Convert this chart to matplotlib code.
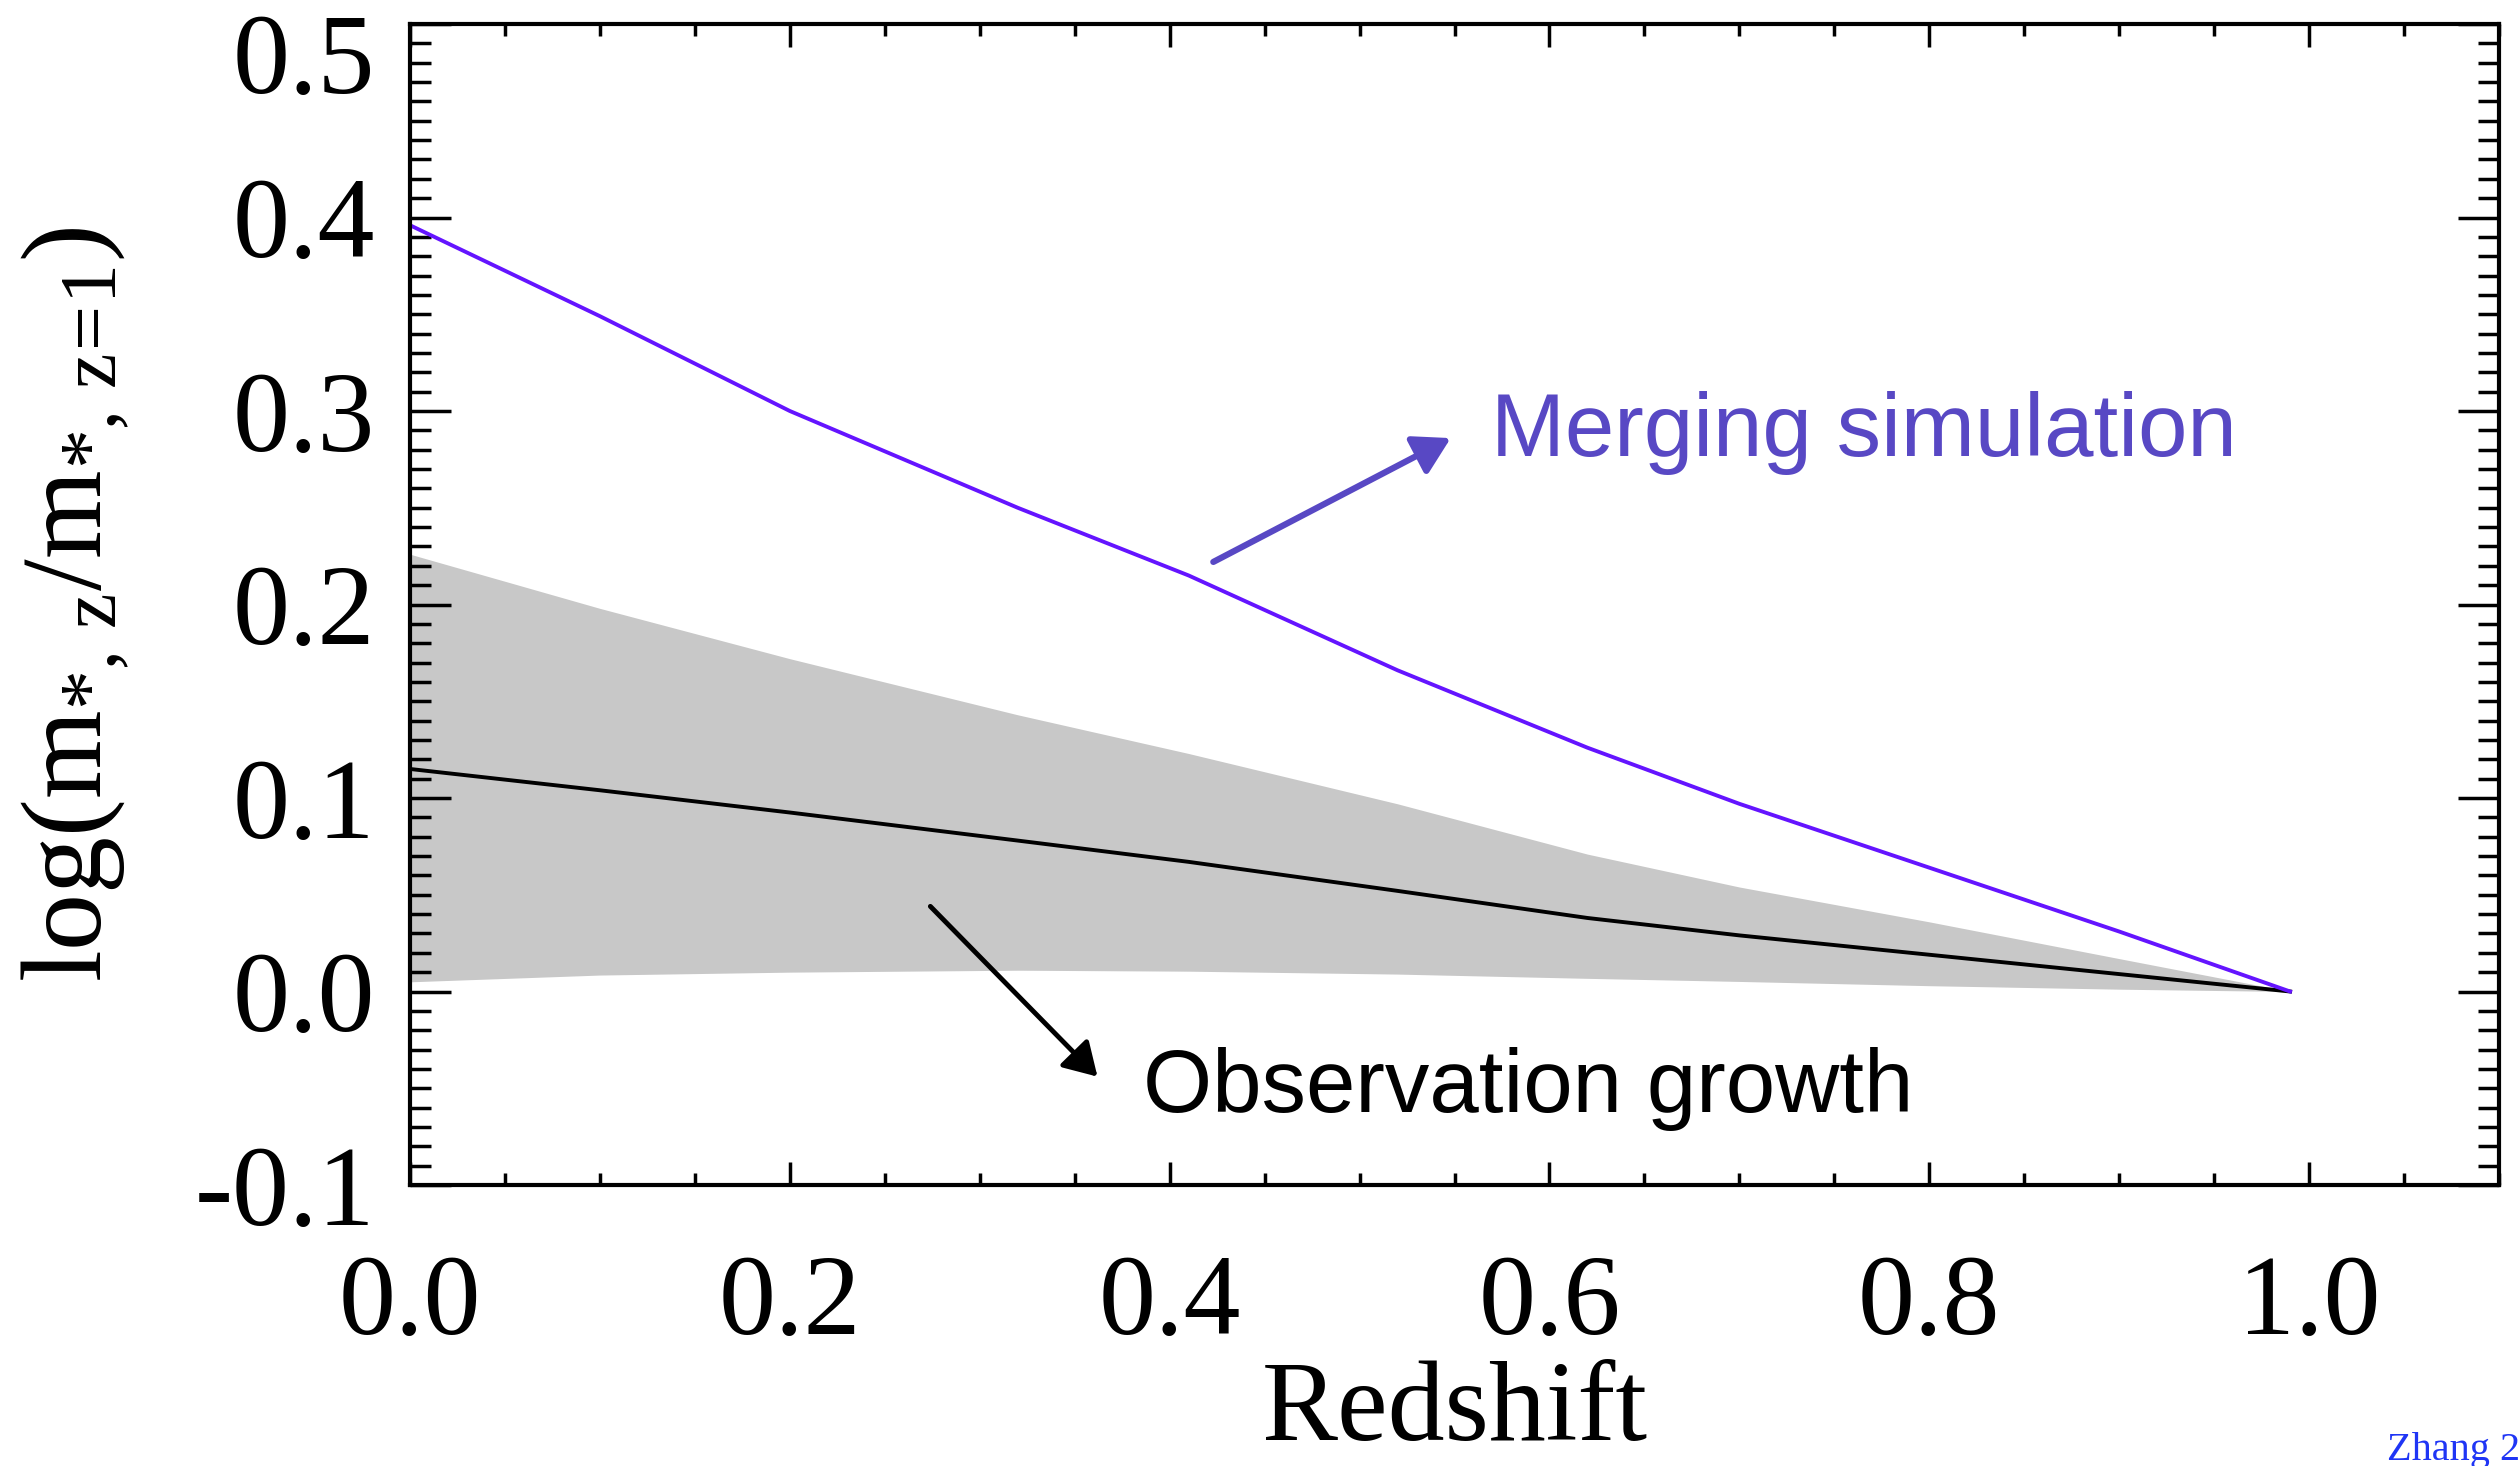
import matplotlib
matplotlib.use('Agg')
import matplotlib.pyplot as plt
from matplotlib.ticker import MultipleLocator
from matplotlib.transforms import ScaledTranslation

# redshift samples and curves
redshift = [0.0, 0.1, 0.2, 0.32, 0.41, 0.52, 0.62, 0.70, 0.80, 0.90, 0.99]
merging_sim = [0.396, 0.349, 0.300, 0.250, 0.215, 0.166, 0.126, 0.097, 0.064, 0.031, 0.0]
obs_median = [0.115, 0.104, 0.0925, 0.078, 0.067, 0.052, 0.038, 0.029, 0.019, 0.009, 0.0]
obs_upper = [0.226, 0.198, 0.172, 0.143, 0.123, 0.097, 0.071, 0.054, 0.036, 0.017, 0.0]
obs_lower = [0.005, 0.0085, 0.010, 0.011, 0.0105, 0.009, 0.0068, 0.0052, 0.003, 0.0012, 0.0]

xticks = [0.0, 0.2, 0.4, 0.6, 0.8, 1.0]
xtick_labels = ['0.0', '0.2', '0.4', '0.6', '0.8', '1.0']
yticks = [-0.1, 0.0, 0.1, 0.2, 0.3, 0.4, 0.5]
ytick_labels = ['-0.1', '0.0', '0.1', '0.2', '0.3', '0.4', '0.5']

sim_color = '#6414ff'
anno_color = '#5848c4'
serif = 'Liberation Serif'

plt.rcParams['mathtext.fontset'] = 'custom'
plt.rcParams['mathtext.rm'] = serif
plt.rcParams['mathtext.it'] = serif + ':italic'

W, H = 2520, 1466
fig = plt.figure(figsize=(W / 100, H / 100), dpi=100)
ax = fig.add_axes([410 / W, 281 / H, 2089 / W, 1161 / H])

ax.fill_between(redshift, obs_lower, obs_upper, color='#c8c8c8', lw=0)
ax.plot(redshift, obs_median, color='black', lw=2.8)
ax.plot(redshift, merging_sim, color=sim_color, lw=2.8)

ax.set_xlim(0, 1.1)
ax.set_ylim(-0.1, 0.5)

ax.set_xticks(xticks)
ax.set_xticklabels(xtick_labels, fontsize=82, family=serif)
ax.set_yticks(yticks)
ax.set_yticklabels(ytick_labels, fontsize=82, family=serif)
ax.xaxis.set_minor_locator(MultipleLocator(0.05))
ax.yaxis.set_minor_locator(MultipleLocator(0.01))

ax.tick_params(which='both', direction='in', top=True, right=True, width=2.5)
ax.tick_params(axis='y', which='major', length=29.5, pad=25)
ax.tick_params(axis='y', which='minor', length=15)
ax.tick_params(axis='x', which='major', length=16.5, pad=50)
ax.tick_params(axis='x', which='minor', length=8.5)
for s in ax.spines.values():
    s.set_linewidth(3)

# top label sits a bit lower, like the IDL output
top_lab = ax.yaxis.get_major_ticks()[-1].label1
top_lab.set_transform(top_lab.get_transform() + ScaledTranslation(0, -0.29, fig.dpi_scale_trans))

ax.set_xlabel('Redshift', fontsize=82, family=serif)
ax.xaxis.set_label_coords(0.5, -0.2196)
ax.xaxis.label.set_va('baseline')
ax.set_ylabel(r'log(m$_{\mathrm{*,\,z}}$/m$_{\mathrm{*,\,z\!=\!1}}$)', fontsize=82, family=serif)
ax.yaxis.set_label_coords(-0.16, 0.5)
ax.yaxis.label.set_va('center')

ax.annotate('', xy=(0.548, 0.286), xytext=(0.423, 0.222),
            arrowprops=dict(arrowstyle='-|>,head_length=0.55,head_width=0.32', color=anno_color,
                            lw=4.5, shrinkA=0, shrinkB=0, mutation_scale=40))
ax.text(0.569, 0.2765, 'Merging simulation', color=anno_color, fontsize=64,
        family='Liberation Sans', va='baseline')

ax.annotate('', xy=(0.362, -0.044), xytext=(0.274, 0.044),
            arrowprops=dict(arrowstyle='-|>,head_length=0.5,head_width=0.3', color='black',
                            lw=3.5, shrinkA=0, shrinkB=0, mutation_scale=40))
ax.text(0.386, -0.0625, 'Observation growth', color='black', fontsize=64,
        family='Liberation Sans', va='baseline')

fig.text(2387 / W, 6 / H, 'Zhang 2', fontsize=29, color='#1f35f5', family=serif, va='baseline')

fig.savefig('out.png', dpi=100)
